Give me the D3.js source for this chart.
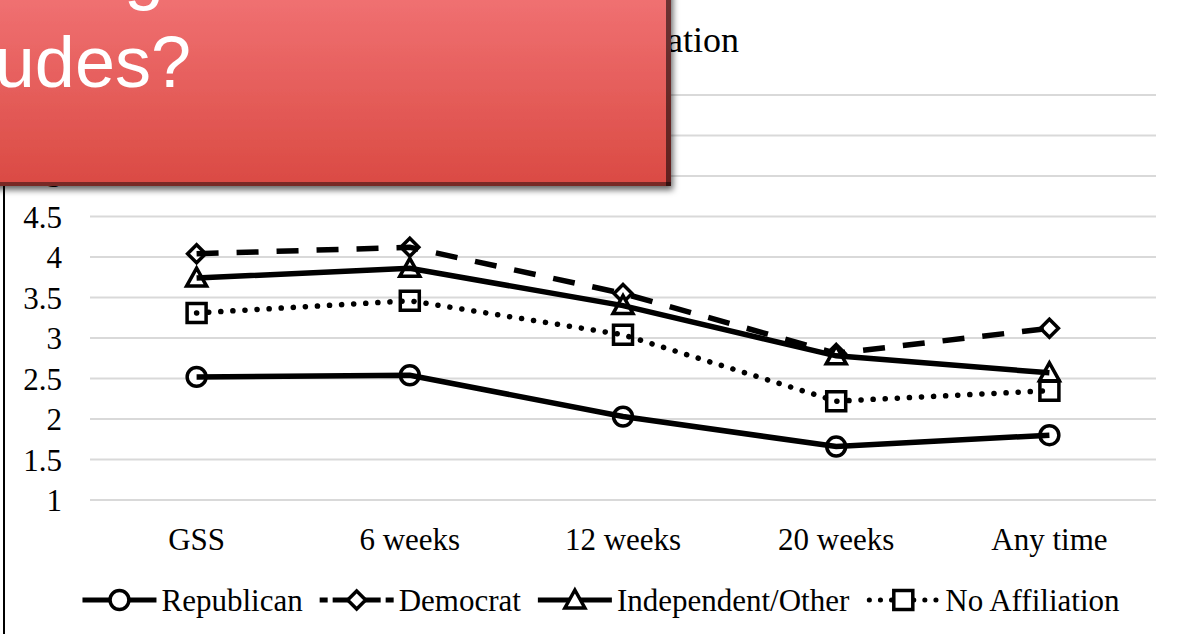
<!DOCTYPE html>
<html><head><meta charset="utf-8">
<script src="https://cdn.jsdelivr.net/npm/d3@7"></script>
<style>html,body{margin:0;padding:0;background:#fff;overflow:hidden}</style>
</head><body>
<svg id="c" width="1184" height="634"></svg>
<script>
const categories = ["GSS", "6 weeks", "12 weeks", "20 weeks", "Any time"];
const republican = [2.52, 2.54, 2.03, 1.66, 1.80];
const democrat = [4.04, 4.12, 3.55, 2.81, 3.12];
const independent = [3.74, 3.86, 3.40, 2.78, 2.57];
const noAffiliation = [3.31, 3.46, 3.04, 2.22, 2.35];
const yTicks = [1, 1.5, 2, 2.5, 3, 3.5, 4, 4.5, 5, 5.5, 6];
const seriesNames = ["Republican", "Democrat", "Independent/Other", "No Affiliation"];
const titleText = "Abortion attitudes by party affiliation";
const overlayLines = ["Shifting", "attitudes?"];

const series = [
  {name: seriesNames[0], values: republican, marker: "circle", dash: null, legDash: null, cap: "butt"},
  {name: seriesNames[1], values: democrat, marker: "diamond", dash: "22,18", legDash: "8,5,48,5,8", cap: "butt"},
  {name: seriesNames[2], values: independent, marker: "triangle", dash: null, legDash: null, cap: "butt"},
  {name: seriesNames[3], values: noAffiliation, marker: "square", dash: "0.1,12", legDash: "0.1,11", cap: "round"}
];

const svg = d3.select("#c");
const FONT = "'Liberation Serif','Times New Roman',serif";
const x = d3.scaleBand().domain(categories).range([90, 1156]);
const y = d3.scaleLinear().domain([1, 6]).range([500, 95]);
const cx = c => x(c) + x.bandwidth() / 2;

// left frame line
svg.append("line").attr("x1", 4).attr("x2", 4).attr("y1", 0).attr("y2", 634)
  .attr("stroke", "#000").attr("stroke-width", 2);

// gridlines
svg.append("g").selectAll("line").data(yTicks).join("line")
  .attr("x1", 90).attr("x2", 1156)
  .attr("y1", d => y(d)).attr("y2", d => y(d))
  .attr("stroke", "#d9d9d9").attr("stroke-width", 2);

// y axis labels
const yAxis = d3.axisLeft(y).tickValues(yTicks).tickSize(0).tickPadding(0).tickFormat(d3.format("~g"));
const gy = svg.append("g").attr("transform", "translate(62,0)").call(yAxis);
gy.select(".domain").remove();
gy.selectAll("text").attr("font-family", FONT).attr("font-size", 31).attr("fill", "#000").attr("dy", "0.34em");

// x axis labels
const xAxis = d3.axisBottom(x).tickSize(0).tickPadding(0);
const gx = svg.append("g").attr("transform", "translate(0,528)").call(xAxis);
gx.select(".domain").remove();
gx.selectAll("text").attr("font-family", FONT).attr("font-size", 31).attr("fill", "#000").attr("dy", "0.71em");

// title
svg.append("text").attr("x", 739).attr("y", 52).attr("text-anchor", "end")
  .attr("font-family", FONT).attr("font-size", 36).attr("fill", "#000").text(titleText);

function markerPath(type) {
  if (type === "circle") return d3.symbol(d3.symbolCircle, 280)();
  if (type === "diamond") return "M0,-9L9,0L0,9L-9,0Z";
  if (type === "triangle") return "M0,-10L10,8L-10,8Z";
  return "M-9.5,-9.5H9.5V9.5H-9.5Z";
}

const line = d3.line().x((d, i) => cx(categories[i])).y(d => y(d));
series.forEach(s => {
  const g = svg.append("g");
  g.selectAll("path.m").data(s.values).join("path").attr("class", "m")
    .attr("d", markerPath(s.marker))
    .attr("transform", (d, i) => `translate(${cx(categories[i])},${y(d)})`)
    .attr("fill", "#fff").attr("stroke", "#000").attr("stroke-width", 3.5);
  g.append("path").attr("d", line(s.values)).attr("fill", "none")
    .attr("stroke", "#000").attr("stroke-width", 5.5)
    .attr("stroke-dasharray", s.dash).attr("stroke-linecap", s.cap);
});

// legend
const leg = svg.append("g");
const items = [];
series.forEach(s => {
  const gi = leg.append("g");
  gi.append("line").attr("x1", s.legDash === "0.1,11" ? 3 : 0).attr("x2", 74).attr("y1", 0).attr("y2", 0)
    .attr("stroke", "#000").attr("stroke-width", 5)
    .attr("stroke-dasharray", s.legDash)
    .attr("stroke-linecap", s.cap);
  gi.append("path").attr("d", markerPath(s.marker)).attr("transform", "translate(37,0)")
    .attr("fill", "#fff").attr("stroke", "#000").attr("stroke-width", 3.5);
  const t = gi.append("text").attr("x", 79).attr("y", 0).attr("dy", "0.34em")
    .attr("font-family", FONT).attr("font-size", 31).attr("fill", "#000").text(s.name);
  const w = 79 + t.node().getComputedTextLength();
  items.push({g: gi, w});
});
const gap = 17;
const total = d3.sum(items, d => d.w) + gap * (items.length - 1);
let lx = 601 - total / 2;
items.forEach(it => { it.g.attr("transform", `translate(${lx},600)`); lx += it.w + gap; });

// overlay red box
const defs = svg.append("defs");
const grad = defs.append("linearGradient").attr("id", "rg").attr("x1", 0).attr("x2", 0).attr("y1", 0).attr("y2", 1);
grad.append("stop").attr("offset", "0%").attr("stop-color", "#f27476");
grad.append("stop").attr("offset", "100%").attr("stop-color", "#da4a43");
const f = defs.append("filter").attr("id", "sh").attr("x", "-10%").attr("y", "-10%").attr("width", "130%").attr("height", "140%");
f.append("feDropShadow").attr("dx", 2).attr("dy", 4).attr("stdDeviation", 3)
  .attr("flood-color", "#000").attr("flood-opacity", 0.6);
const box = svg.append("g");
box.append("rect").attr("x", -20).attr("y", -20).attr("width", 691).attr("height", 206)
  .attr("fill", "url(#rg)").attr("filter", "url(#sh)");
box.append("rect").attr("x", 666).attr("y", -20).attr("width", 5).attr("height", 206)
  .attr("fill", "#000").attr("opacity", 0.55);
box.append("rect").attr("x", -20).attr("y", 182).attr("width", 691).attr("height", 4)
  .attr("fill", "#000").attr("opacity", 0.45);
box.append("text").attr("x", 164).attr("y", -4).attr("text-anchor", "end")
  .attr("font-family", "'Liberation Sans',Arial,sans-serif").attr("font-size", 72)
  .attr("fill", "#fff").text(overlayLines[0]);
box.append("text").attr("x", 191).attr("y", 87).attr("text-anchor", "end")
  .attr("font-family", "'Liberation Sans',Arial,sans-serif").attr("font-size", 72)
  .attr("fill", "#fff").text(overlayLines[1]);
</script>
</body></html>
